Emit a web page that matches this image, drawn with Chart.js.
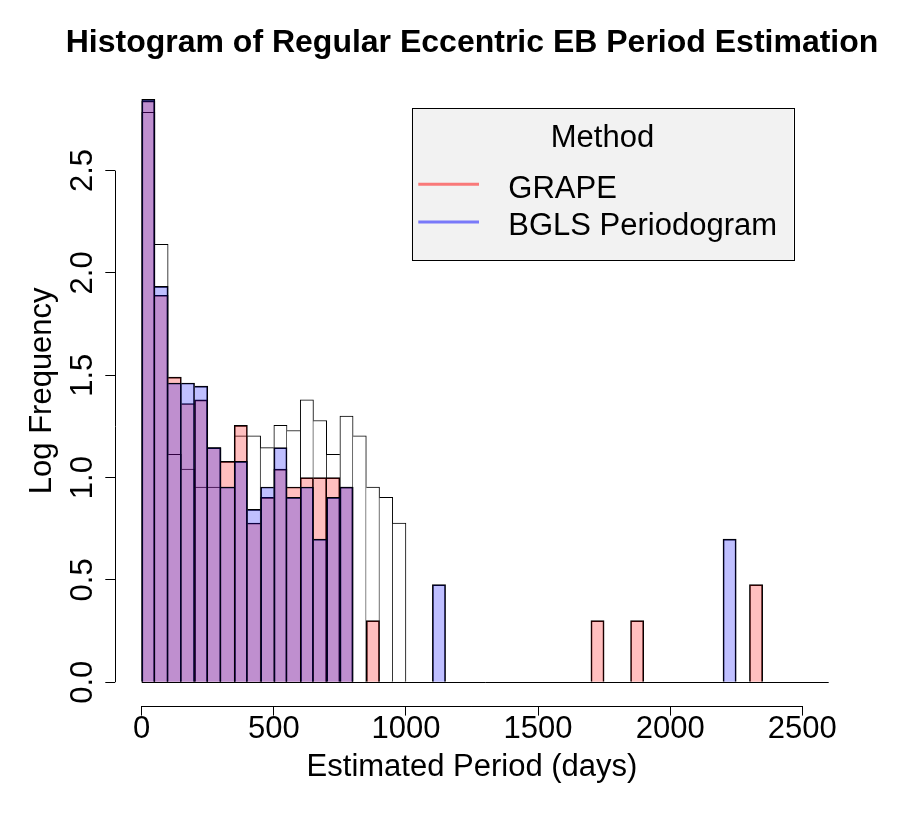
<!DOCTYPE html>
<html>
<head>
<meta charset="utf-8">
<title>Histogram of Regular Eccentric EB Period Estimation</title>
<script src="https://cdn.jsdelivr.net/npm/chart.js@4.4.1/dist/chart.umd.min.js"></script>
<style>
  html, body { margin: 0; padding: 0; background: #fff; }
  #wrap { width: 906px; height: 821px; position: relative; }
</style>
</head>
<body>
<div id="wrap"><canvas id="chart"></canvas></div>
<script>
// bins: lower edge in days, all 50 days wide
const binStarts = [
  0, 50, 100, 150, 200, 250, 300, 350, 400, 450,
  500, 550, 600, 650, 700, 750, 800, 850, 900, 950,
  1000, 1050, 1100, 1150, 1200, 1250, 1300, 1350, 1400, 1450,
  1500, 1550, 1600, 1650, 1700, 1750, 1800, 1850, 1900, 1950,
  2000, 2050, 2100, 2150, 2200, 2250, 2300, 2350, 2400, 2450,
  2500, 2550
];
const BIN_WIDTH = 50;

// log10(count) per bin
const trueLog = [
  2.785, 2.140, 1.114, 1.041, 0.954, 0.954, 0.954, 1.204, 1.204, 1.146,
  1.255, 1.230, 1.380, 1.279, 1.114, 1.301, 1.204, 0.954, 0.903, 0.778,
  0, 0, 0, 0, 0, 0, 0, 0, 0, 0,
  0, 0, 0, 0, 0, 0, 0, 0, 0, 0,
  0, 0, 0, 0, 0, 0, 0, 0, 0, 0,
  0, 0
];
const grapeLog = [
  2.840, 1.891, 1.491, 1.362, 1.380, 1.146, 1.079, 1.255, 0.778, 0.903,
  1.041, 0.954, 1.000, 1.000, 1.000, 0.954, 0, 0.301, 0, 0,
  0, 0, 0, 0, 0, 0, 0, 0, 0, 0,
  0, 0, 0, 0, 0.301, 0, 0, 0.301, 0, 0,
  0, 0, 0, 0, 0, 0, 0.477, 0, 0, 0,
  0, 0
];
const bglsLog = [
  2.848, 1.934, 1.462, 1.462, 1.447, 1.146, 0.954, 1.079, 0.845, 0.954,
  1.146, 0.903, 0.954, 0.699, 0.903, 0.954, 0, 0, 0, 0,
  0, 0, 0.477, 0, 0, 0, 0, 0, 0, 0,
  0, 0, 0, 0, 0, 0, 0, 0, 0, 0,
  0, 0, 0, 0, 0.699, 0, 0, 0, 0, 0,
  0, 0
];

const xTicks = [0, 500, 1000, 1500, 2000, 2500];
const yTicks = [0, 0.5, 1, 1.5, 2, 2.5];

const TITLE = 'Histogram of Regular Eccentric EB Period Estimation';
const FONT = "'Liberation Sans', Arial, Helvetica, sans-serif";
const SIZE = 31;
Chart.defaults.font.family = FONT;
Chart.defaults.color = '#000';

function pts(vals) {
  return binStarts.map(function (b, i) { return { x: b + BIN_WIDTH / 2, y: vals[i] }; });
}

// shared edges get one 1px line, like R's rect borders
function edges(vals) {
  return function (c) {
    var i = c.dataIndex, v = vals[i];
    var prev = i > 0 ? vals[i - 1] : 0, next = i < vals.length - 1 ? vals[i + 1] : 0;
    return { top: 1, left: prev < v ? 1 : 0, right: next <= v ? 1 : 0, bottom: 0 };
  };
}

function barSet(label, vals, fill, order) {
  return {
    label: label, data: pts(vals), order: order,
    backgroundColor: fill, borderColor: '#000', borderWidth: edges(vals),
    barPercentage: 1, categoryPercentage: 1, grouped: false
  };
}

var legendItems = [
  { label: 'GRAPE', color: 'rgba(255,0,0,0.5)', y: 184.3, base: 198 },
  { label: 'BGLS Periodogram', color: 'rgba(0,0,255,0.5)', y: 222, base: 234.7 }
];

var rLook = {
  id: 'rLook',
  afterDatasetsDraw: function (chart) {
    var ctx = chart.ctx, x = chart.scales.x, y = chart.scales.y;
    var y0 = Math.round(y.getPixelForValue(0)) + 0.5;
    ctx.save();
    ctx.strokeStyle = '#000'; ctx.lineWidth = 1;
    ctx.beginPath();
    ctx.moveTo(x.getPixelForValue(binStarts[0]), y0);
    ctx.lineTo(x.getPixelForValue(binStarts[binStarts.length - 1] + BIN_WIDTH), y0);
    ctx.stroke();
    ctx.restore();
  },
  afterDraw: function (chart) {
    var ctx = chart.ctx, x = chart.scales.x, y = chart.scales.y, a = chart.chartArea;
    ctx.save();
    ctx.strokeStyle = '#000'; ctx.lineWidth = 1;
    // axis lines only across tick range
    var by = Math.round(a.bottom) + 0.5, lx = Math.round(a.left) + 0.5;
    ctx.beginPath();
    ctx.moveTo(x.getPixelForValue(xTicks[0]), by);
    ctx.lineTo(x.getPixelForValue(xTicks[xTicks.length - 1]), by);
    ctx.moveTo(lx, y.getPixelForValue(yTicks[0]));
    ctx.lineTo(lx, y.getPixelForValue(yTicks[yTicks.length - 1]));
    ctx.stroke();

    // main title, centred over the plot region
    ctx.fillStyle = '#000';
    ctx.font = 'bold 32px ' + FONT;
    ctx.textAlign = 'center'; ctx.textBaseline = 'alphabetic';
    ctx.fillText(TITLE, (a.left + a.right) / 2, 51.7);

    // y tick labels, rotated like R's las=0
    ctx.font = SIZE + 'px ' + FONT;
    yTicks.forEach(function (v) {
      ctx.save();
      ctx.translate(91.7, y.getPixelForValue(v));
      ctx.rotate(-Math.PI / 2);
      ctx.fillText(v.toFixed(1), 0, 0);
      ctx.restore();
    });

    // legend box
    var L = 411.7, T = 108.3, R = 793.3, B = 260.7;
    ctx.fillStyle = '#f2f2f2';
    ctx.fillRect(L, T, R - L, B - T);
    ctx.strokeRect(Math.round(L) + 0.5, Math.round(T) + 0.5, Math.round(R - L), Math.round(B - T));
    ctx.fillStyle = '#000';
    ctx.textAlign = 'center';
    ctx.fillText('Method', (L + R) / 2, 146.7);
    ctx.textAlign = 'left';
    legendItems.forEach(function (it) {
      ctx.strokeStyle = it.color; ctx.lineWidth = 3;
      ctx.beginPath(); ctx.moveTo(418.3, it.y); ctx.lineTo(479, it.y); ctx.stroke();
      ctx.fillText(it.label, 508.3, it.base);
    });
    ctx.restore();
  }
};

new Chart(document.getElementById('chart'), {
  type: 'bar',
  data: {
    datasets: [
      barSet('True Period', trueLog, '#ffffff', 3),
      barSet('GRAPE', grapeLog, 'rgba(255,0,0,0.25)', 2),
      barSet('BGLS Periodogram', bglsLog, 'rgba(0,0,255,0.25)', 1)
    ]
  },
  options: {
    responsive: true, maintainAspectRatio: false, animation: false,
    layout: { padding: { left: 0, right: 77.3, top: 76, bottom: 0 } },
    plugins: {
      legend: { display: false },
      tooltip: { enabled: false },
      title: { display: false }
    },
    scales: {
      x: {
        type: 'linear', min: -100, max: 2600, offset: false,
        afterBuildTicks: function (s) { s.ticks = xTicks.map(function (v) { return { value: v }; }); },
        afterFit: function (s) { s.height = 115.4; },
        border: { display: false },
        grid: { offset: false, drawOnChartArea: false, drawTicks: true, tickLength: 10, color: '#000', lineWidth: 1 },
        ticks: {
          font: { size: SIZE, lineHeight: 1 }, padding: -2, color: '#000',
          maxRotation: 0, autoSkip: false,
          callback: function (v) { return String(v); }
        },
        title: {
          display: true, text: 'Estimated Period (days)',
          font: { size: SIZE, lineHeight: 1 }, padding: { top: 0, bottom: 37.9 }, color: '#000'
        }
      },
      y: {
        min: -0.114, max: 2.962,
        afterBuildTicks: function (s) { s.ticks = yTicks.map(function (v) { return { value: v }; }); },
        afterFit: function (s) { s.width = 115.3; },
        border: { display: false },
        grid: { drawOnChartArea: false, drawTicks: true, tickLength: 10, color: '#000', lineWidth: 1 },
        ticks: { display: false },
        title: {
          display: true, text: 'Log Frequency',
          font: { size: SIZE, lineHeight: 1 }, padding: { top: 27.1, bottom: 0 }, color: '#000'
        }
      }
    }
  },
  plugins: [rLook]
});
</script>
</body>
</html>
